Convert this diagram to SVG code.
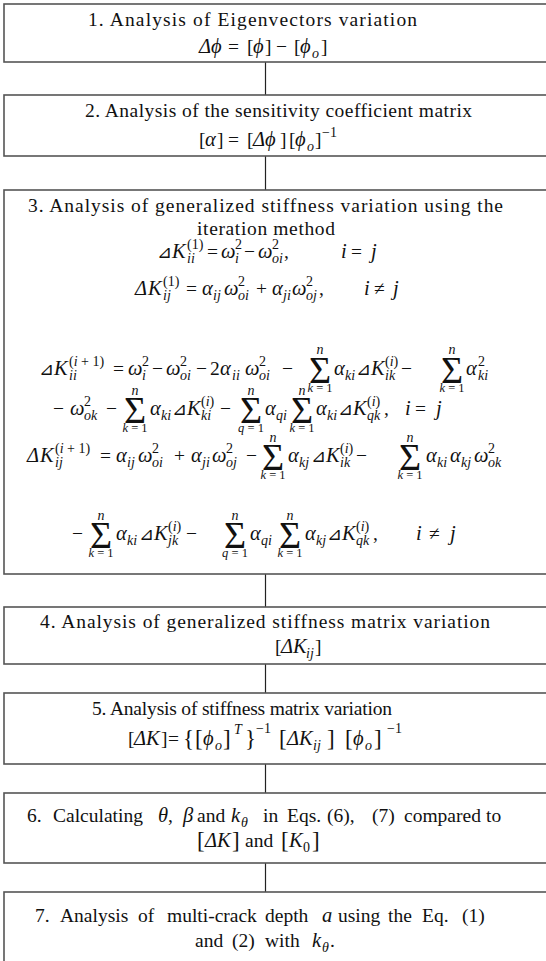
<svg xmlns="http://www.w3.org/2000/svg" width="546" height="961" viewBox="0 0 546 961">
<style>
.box{fill:#fff;stroke:#555;stroke-width:1.6}
.cn{stroke:#222;stroke-width:1.2;fill:none}
text{font-family:"Liberation Serif","DejaVu Serif",serif;font-size:19.5px;fill:#111}
.i{font-style:italic;font-size:20.5px}
.s{font-size:14px}
.l{font-size:12.5px}
.g{font-size:38px}
.tri{font-family:"DejaVu Sans",sans-serif;font-size:18px}
.br{font-size:23px}
</style>
<rect x="0" y="0" width="546" height="961" fill="#fff"/>
<g id="connectors">
<line class="cn" x1="265.5" y1="62" x2="265.5" y2="95"/>
<line class="cn" x1="265.5" y1="156" x2="265.5" y2="190"/>
<line class="cn" x1="265.5" y1="574" x2="265.5" y2="607"/>
<line class="cn" x1="265.5" y1="664" x2="265.5" y2="693"/>
<line class="cn" x1="265.5" y1="764" x2="265.5" y2="793"/>
<line class="cn" x1="265.5" y1="863" x2="265.5" y2="892"/>
</g>
<g id="node1">
<rect class="box" x="4" y="4" width="560" height="58"/>
<text x="88" y="26" textLength="329" lengthAdjust="spacing">1. Analysis of Eigenvectors variation</text>
<text><tspan class="i" x="199" y="53">Δϕ</tspan><tspan x="228" y="53">=</tspan><tspan x="247" y="53">[</tspan><tspan class="i" x="253" y="53">ϕ</tspan><tspan x="265" y="53">]</tspan><tspan x="276" y="53">−</tspan><tspan x="294" y="53">[</tspan><tspan class="i" x="300" y="53">ϕ</tspan><tspan class="s i" x="312" y="58">o</tspan><tspan x="321" y="53">]</tspan></text>
</g>
<g id="node2">
<rect class="box" x="4" y="95" width="560" height="61"/>
<text x="85" y="117" textLength="387" lengthAdjust="spacing">2. Analysis of the sensitivity coefficient matrix</text>
<text><tspan x="199" y="146">[</tspan><tspan class="i" x="205" y="146">α</tspan><tspan x="217" y="146">]</tspan><tspan x="228" y="146">=</tspan><tspan x="247" y="146">[</tspan><tspan class="i" x="253" y="146">Δϕ</tspan><tspan x="280" y="146">]</tspan><tspan x="289" y="146">[</tspan><tspan class="i" x="295" y="146">ϕ</tspan><tspan class="s i" x="307" y="151">o</tspan><tspan x="315" y="146">]</tspan><tspan class="s" x="322" y="137">−1</tspan></text>
</g>
<g id="node3">
<rect class="box" x="4" y="190" width="560" height="384"/>
<text x="28" y="212" textLength="475" lengthAdjust="spacing">3. Analysis of generalized stiffness variation using the</text>
<text x="197" y="235" textLength="138" lengthAdjust="spacing">iteration method</text>
<text><tspan class="tri" x="157" y="258">⊿</tspan><tspan class="i" x="172" y="258">K</tspan><tspan class="s" x="187" y="249">(1)</tspan><tspan class="s i" x="187" y="263">ii</tspan><tspan x="207" y="258">=</tspan><tspan class="i" x="221" y="258">ω</tspan><tspan class="s" x="235" y="249">2</tspan><tspan class="s i" x="235" y="263">i</tspan><tspan x="244" y="258">−</tspan><tspan class="i" x="258" y="258">ω</tspan><tspan class="s" x="272" y="249">2</tspan><tspan class="s i" x="272" y="263">oi</tspan><tspan x="284" y="258">,</tspan><tspan class="i" x="341" y="258">i</tspan><tspan x="351" y="258">=</tspan><tspan class="i" x="371" y="258">j</tspan></text>
<text><tspan class="i" x="135" y="295">Δ</tspan><tspan class="i" x="148" y="295">K</tspan><tspan class="s" x="163" y="286">(1)</tspan><tspan class="s i" x="163" y="300">ij</tspan><tspan x="186" y="295">=</tspan><tspan class="i" x="202" y="295">α</tspan><tspan class="s i" x="213" y="300">ij</tspan><tspan class="i" x="224" y="295">ω</tspan><tspan class="s" x="238" y="286">2</tspan><tspan class="s i" x="238" y="300">oi</tspan><tspan x="256" y="295">+</tspan><tspan class="i" x="272" y="295">α</tspan><tspan class="s i" x="283" y="300">ji</tspan><tspan class="i" x="292" y="295">ω</tspan><tspan class="s" x="306" y="286">2</tspan><tspan class="s i" x="306" y="300">oj</tspan><tspan x="319" y="295">,</tspan><tspan class="i" x="364" y="295">i</tspan><tspan x="374" y="295">≠</tspan><tspan class="i" x="393" y="295">j</tspan></text>
<text><tspan class="tri" x="39" y="375">⊿</tspan><tspan class="i" x="54" y="375">K</tspan><tspan class="s" x="69" y="366">(<tspan class="i s">i</tspan> + 1)</tspan><tspan class="s i" x="69" y="380">ii</tspan><tspan x="113" y="375">=</tspan><tspan class="i" x="128" y="375">ω</tspan><tspan class="s" x="142" y="366">2</tspan><tspan class="s i" x="142" y="380">i</tspan><tspan x="152" y="375">−</tspan><tspan class="i" x="166" y="375">ω</tspan><tspan class="s" x="180" y="366">2</tspan><tspan class="s i" x="180" y="380">oi</tspan><tspan x="196" y="375">−</tspan><tspan x="210" y="375">2</tspan><tspan class="i" x="220" y="375">α</tspan><tspan class="s i" x="232" y="380">ii</tspan><tspan class="i" x="245" y="375">ω</tspan><tspan class="s" x="259" y="366">2</tspan><tspan class="s i" x="259" y="380">oi</tspan><tspan x="282" y="375">−</tspan><tspan class="i" x="334" y="375">α</tspan><tspan class="s i" x="345" y="380">ki</tspan><tspan class="tri" x="356" y="375">⊿</tspan><tspan class="i" x="371" y="375">K</tspan><tspan class="s" x="385" y="366">(<tspan class="i s">i</tspan>)</tspan><tspan class="s i" x="385" y="380">ik</tspan><tspan x="401" y="375">−</tspan><tspan class="i" x="466" y="375">α</tspan><tspan class="s" x="478" y="366">2</tspan><tspan class="s i" x="478" y="380">ki</tspan></text>
<text class="g" x="320" y="383" text-anchor="middle">Σ</text>
<text class="s i" x="320" y="354" text-anchor="middle">n</text>
<text class="l" x="320" y="392" text-anchor="middle"><tspan class="i l">k</tspan> = 1</text>
<text class="g" x="452" y="383" text-anchor="middle">Σ</text>
<text class="s i" x="452" y="354" text-anchor="middle">n</text>
<text class="l" x="452" y="392" text-anchor="middle"><tspan class="i l">k</tspan> = 1</text>
<text><tspan x="53" y="415">−</tspan><tspan class="i" x="70" y="415">ω</tspan><tspan class="s" x="84" y="406">2</tspan><tspan class="s i" x="84" y="420">ok</tspan><tspan x="106" y="415">−</tspan><tspan class="i" x="150" y="415">α</tspan><tspan class="s i" x="161" y="420">ki</tspan><tspan class="tri" x="172" y="415">⊿</tspan><tspan class="i" x="187" y="415">K</tspan><tspan class="s" x="201" y="406">(<tspan class="i s">i</tspan>)</tspan><tspan class="s i" x="201" y="420">ki</tspan><tspan x="220" y="415">−</tspan><tspan class="i" x="265" y="415">α</tspan><tspan class="s i" x="276" y="420">qi</tspan><tspan class="i" x="316" y="415">α</tspan><tspan class="s i" x="327" y="420">ki</tspan><tspan class="tri" x="338" y="415">⊿</tspan><tspan class="i" x="353" y="415">K</tspan><tspan class="s" x="367" y="406">(<tspan class="i s">i</tspan>)</tspan><tspan class="s i" x="367" y="420">qk</tspan><tspan x="384" y="415">,</tspan><tspan class="i" x="405" y="415">i</tspan><tspan x="415" y="415">=</tspan><tspan class="i" x="436" y="415">j</tspan></text>
<text class="g" x="135" y="423" text-anchor="middle">Σ</text>
<text class="s i" x="135" y="395" text-anchor="middle">n</text>
<text class="l" x="135" y="432" text-anchor="middle"><tspan class="i l">k</tspan> = 1</text>
<text class="g" x="251" y="423" text-anchor="middle">Σ</text>
<text class="s i" x="251" y="395" text-anchor="middle">n</text>
<text class="l" x="251" y="432" text-anchor="middle"><tspan class="i l">q</tspan> = 1</text>
<text class="g" x="302" y="423" text-anchor="middle">Σ</text>
<text class="s i" x="302" y="395" text-anchor="middle">n</text>
<text class="l" x="302" y="432" text-anchor="middle"><tspan class="i l">k</tspan> = 1</text>
<text><tspan class="i" x="27" y="462">Δ</tspan><tspan class="i" x="40" y="462">K</tspan><tspan class="s" x="55" y="453">(<tspan class="i s">i</tspan> + 1)</tspan><tspan class="s i" x="55" y="467">ij</tspan><tspan x="100" y="462">=</tspan><tspan class="i" x="116" y="462">α</tspan><tspan class="s i" x="127" y="467">ij</tspan><tspan class="i" x="138" y="462">ω</tspan><tspan class="s" x="152" y="453">2</tspan><tspan class="s i" x="152" y="467">oi</tspan><tspan x="174" y="462">+</tspan><tspan class="i" x="191" y="462">α</tspan><tspan class="s i" x="202" y="467">ji</tspan><tspan class="i" x="212" y="462">ω</tspan><tspan class="s" x="226" y="453">2</tspan><tspan class="s i" x="226" y="467">oj</tspan><tspan x="246" y="462">−</tspan><tspan class="i" x="288" y="462">α</tspan><tspan class="s i" x="299" y="467">kj</tspan><tspan class="tri" x="311" y="462">⊿</tspan><tspan class="i" x="326" y="462">K</tspan><tspan class="s" x="340" y="453">(<tspan class="i s">i</tspan>)</tspan><tspan class="s i" x="340" y="467">ik</tspan><tspan x="356" y="462">−</tspan><tspan class="i" x="426" y="462">α</tspan><tspan class="s i" x="437" y="467">ki</tspan><tspan class="i" x="450" y="462">α</tspan><tspan class="s i" x="461" y="467">kj</tspan><tspan class="i" x="474" y="462">ω</tspan><tspan class="s" x="488" y="453">2</tspan><tspan class="s i" x="488" y="467">ok</tspan></text>
<text class="g" x="273" y="470" text-anchor="middle">Σ</text>
<text class="s i" x="273" y="442" text-anchor="middle">n</text>
<text class="l" x="273" y="479" text-anchor="middle"><tspan class="i l">k</tspan> = 1</text>
<text class="g" x="410" y="470" text-anchor="middle">Σ</text>
<text class="s i" x="410" y="442" text-anchor="middle">n</text>
<text class="l" x="410" y="479" text-anchor="middle"><tspan class="i l">k</tspan> = 1</text>
<text><tspan x="72" y="540">−</tspan><tspan class="i" x="116" y="540">α</tspan><tspan class="s i" x="127" y="545">ki</tspan><tspan class="tri" x="139" y="540">⊿</tspan><tspan class="i" x="154" y="540">K</tspan><tspan class="s" x="168" y="531">(<tspan class="i s">i</tspan>)</tspan><tspan class="s i" x="168" y="545">jk</tspan><tspan x="186" y="540">−</tspan><tspan class="i" x="250" y="540">α</tspan><tspan class="s i" x="261" y="545">qi</tspan><tspan class="i" x="305" y="540">α</tspan><tspan class="s i" x="316" y="545">kj</tspan><tspan class="tri" x="327" y="540">⊿</tspan><tspan class="i" x="342" y="540">K</tspan><tspan class="s" x="356" y="531">(<tspan class="i s">i</tspan>)</tspan><tspan class="s i" x="356" y="545">qk</tspan><tspan x="373" y="540">,</tspan><tspan class="i" x="416" y="540">i</tspan><tspan x="429" y="540">≠</tspan><tspan class="i" x="450" y="540">j</tspan></text>
<text class="g" x="101" y="548" text-anchor="middle">Σ</text>
<text class="s i" x="101" y="520" text-anchor="middle">n</text>
<text class="l" x="101" y="557" text-anchor="middle"><tspan class="i l">k</tspan> = 1</text>
<text class="g" x="235" y="548" text-anchor="middle">Σ</text>
<text class="s i" x="235" y="520" text-anchor="middle">n</text>
<text class="l" x="235" y="557" text-anchor="middle"><tspan class="i l">q</tspan> = 1</text>
<text class="g" x="290" y="548" text-anchor="middle">Σ</text>
<text class="s i" x="290" y="520" text-anchor="middle">n</text>
<text class="l" x="290" y="557" text-anchor="middle"><tspan class="i l">k</tspan> = 1</text>
</g>
<g id="node4">
<rect class="box" x="4" y="607" width="560" height="57"/>
<text x="40" y="628" textLength="450" lengthAdjust="spacing">4. Analysis of generalized stiffness matrix variation</text>
<text><tspan x="275" y="653">[</tspan><tspan class="i" x="281" y="653">ΔK</tspan><tspan class="s i" x="306" y="658">ij</tspan><tspan x="315" y="653">]</tspan></text>
</g>
<g id="node5">
<rect class="box" x="4" y="693" width="560" height="71"/>
<text x="92" y="715" textLength="300" lengthAdjust="spacing">5. Analysis of stiffness matrix variation</text>
<text><tspan x="128" y="745">[</tspan><tspan class="i" x="134" y="745">ΔK</tspan><tspan x="161" y="745">]</tspan><tspan x="168" y="745">=</tspan><tspan class="br" x="183" y="746">{</tspan><tspan class="br" x="195" y="746">[</tspan><tspan class="i" x="203" y="745">ϕ</tspan><tspan class="s i" x="215" y="750">o</tspan><tspan class="br" x="223" y="746">]</tspan><tspan class="s i" x="234" y="734">T</tspan><tspan class="br" x="245" y="746">}</tspan><tspan class="s" x="256" y="733">−1</tspan><tspan class="br" x="279" y="746">[</tspan><tspan class="i" x="287" y="745">ΔK</tspan><tspan class="s i" x="313" y="750">ij</tspan><tspan class="br" x="327" y="746">]</tspan><tspan class="br" x="345" y="746">[</tspan><tspan class="i" x="353" y="745">ϕ</tspan><tspan class="s i" x="365" y="750">o</tspan><tspan class="br" x="374" y="746">]</tspan><tspan class="s" x="387" y="733">−1</tspan></text>
</g>
<g id="node6">
<rect class="box" x="4" y="793" width="560" height="70"/>
<text><tspan x="27" y="822">6.</tspan><tspan x="53" y="822">Calculating</tspan><tspan class="i" x="158" y="822">θ</tspan><tspan x="168" y="822">,</tspan><tspan class="i" x="183" y="822">β</tspan><tspan x="197" y="822">and</tspan><tspan class="i" x="231" y="822">k</tspan><tspan class="s i" x="241" y="827">θ</tspan><tspan x="263" y="822">in</tspan><tspan x="287" y="822">Eqs.</tspan><tspan x="327" y="822">(6),</tspan><tspan x="372" y="822">(7)</tspan><tspan x="404" y="822">compared</tspan><tspan x="486" y="822">to</tspan></text>
<text><tspan class="br" x="197" y="848">[</tspan><tspan class="i" x="205" y="847">ΔK</tspan><tspan class="br" x="232" y="848">]</tspan><tspan x="245" y="847">and</tspan><tspan class="br" x="281" y="848">[</tspan><tspan class="i" x="289" y="847">K</tspan><tspan class="s" x="303" y="852">0</tspan><tspan class="br" x="312" y="848">]</tspan></text>
</g>
<g id="node7">
<rect class="box" x="4" y="892" width="560" height="90"/>
<text><tspan x="35" y="922">7.</tspan><tspan x="60" y="922">Analysis</tspan><tspan x="138" y="922">of</tspan><tspan x="167" y="922">multi-crack</tspan><tspan x="265" y="922">depth</tspan><tspan class="i" x="322" y="922">a</tspan><tspan x="338" y="922">using</tspan><tspan x="388" y="922">the</tspan><tspan x="422" y="922">Eq.</tspan><tspan x="462" y="922">(1)</tspan></text>
<text><tspan x="195" y="947">and</tspan><tspan x="232" y="947">(2)</tspan><tspan x="265" y="947">with</tspan><tspan class="i" x="312" y="947">k</tspan><tspan class="s i" x="322" y="952">θ</tspan><tspan x="330" y="947">.</tspan></text>
</g>
</svg>
